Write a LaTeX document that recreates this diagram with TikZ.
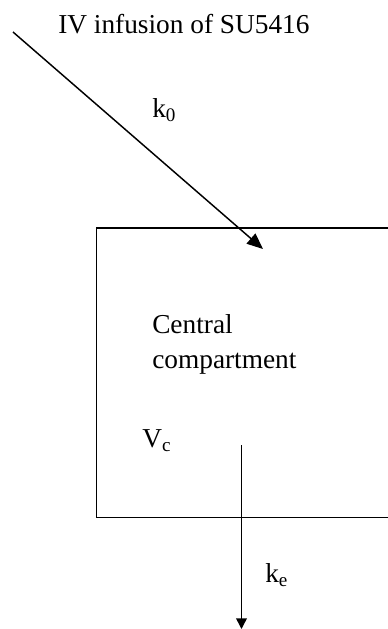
\documentclass[tikz,border=0pt]{standalone}
\usepackage{fontspec}
\setmainfont{Liberation Serif}
\usetikzlibrary{arrows.meta}
\tikzset{
  lbl/.style={anchor=base west, inner sep=0pt, font=\fontsize{20.5pt}{24pt}\selectfont},
  ln/.style={line width=1.1pt, draw=black},
}
\begin{document}
\begin{tikzpicture}[x=0.75pt,y=-0.75pt]
\useasboundingbox (0,0) rectangle (388,629);
% texts
\node[lbl] (title) at (58,33) {IV infusion of SU5416};
\node[lbl] (k0) at (152,117) {k\textsubscript{0}};
\node[lbl] (central) at (152,333) {Central};
\node[lbl] (compart) at (152,368) {compartment};
\node[lbl] (vc) at (142,447) {V\textsubscript{c}};
\node[lbl] (ke) at (265,582) {k\textsubscript{e}};
% compartment box (right side off the page)
\coordinate (tr) at (388,228);
\coordinate (tl) at (96.5,228);
\coordinate (bl) at (96.5,517.5);
\coordinate (br) at (388,517.5);
\draw[ln] (tr) -- (tl) -- (bl) -- (br);
% infusion arrow
\coordinate (inS) at (13,32);
\coordinate (inE) at (263,249);
\draw[ln, -{Triangle[length=12pt,width=10pt]}] (inS) -- (inE);
% elimination arrow
\coordinate (elS) at (241.5,445);
\coordinate (elE) at (241.5,629);
\draw[ln, -{Triangle[length=8pt,width=8pt]}] (elS) -- (elE);
\end{tikzpicture}
\end{document}
